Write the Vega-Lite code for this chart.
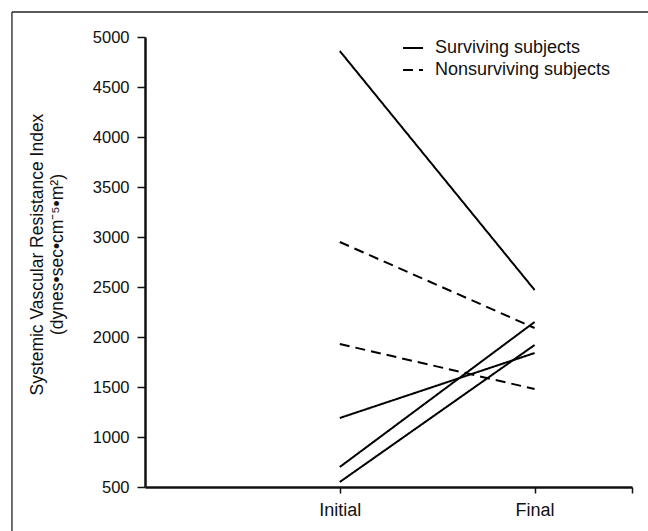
{
  "$schema": "https://vega.github.io/schema/vega-lite/v6.json",
  "width": 487,
  "height": 450,
  "autosize": {"type": "none"},
  "padding": {"left": 145, "top": 37, "right": 16, "bottom": 44},
  "background": "white",
  "config": {
    "view": {"stroke": null},
    "font": "Liberation Sans",
    "axis": {"labelFont": "Liberation Sans", "titleFont": "Liberation Sans", "labelColor": "#111", "titleColor": "#111", "domainColor": "#111", "tickColor": "#111", "grid": false}
  },
  "datasets": {
    "svri": [
      {"subject": "S1", "group": "Surviving subjects", "time": 1, "svri": 4860},
      {"subject": "S1", "group": "Surviving subjects", "time": 2, "svri": 2470},
      {"subject": "S2", "group": "Surviving subjects", "time": 1, "svri": 1190},
      {"subject": "S2", "group": "Surviving subjects", "time": 2, "svri": 1840},
      {"subject": "S3", "group": "Surviving subjects", "time": 1, "svri": 700},
      {"subject": "S3", "group": "Surviving subjects", "time": 2, "svri": 2150},
      {"subject": "S4", "group": "Surviving subjects", "time": 1, "svri": 550},
      {"subject": "S4", "group": "Surviving subjects", "time": 2, "svri": 1920},
      {"subject": "N1", "group": "Nonsurviving subjects", "time": 1, "svri": 2950},
      {"subject": "N1", "group": "Nonsurviving subjects", "time": 2, "svri": 2090},
      {"subject": "N2", "group": "Nonsurviving subjects", "time": 1, "svri": 1930},
      {"subject": "N2", "group": "Nonsurviving subjects", "time": 2, "svri": 1480}
    ]
  },
  "layer": [
    {
      "data": {"values": [{"side": "left"}]},
      "mark": {"type": "rule", "color": "#222", "strokeWidth": 1.3, "clip": false},
      "encoding": {
        "x": {"datum": -0.683, "type": "quantitative", "scale": {"domain": [0, 2.5], "nice": false, "zero": false}},
        "y": {"datum": -100, "type": "quantitative"},
        "y2": {"datum": 5250}
      }
    },
    {
      "data": {"values": [{"side": "top"}]},
      "mark": {"type": "rule", "color": "#222", "strokeWidth": 1.3, "clip": false},
      "encoding": {
        "y": {"datum": 5250, "type": "quantitative"},
        "x": {"datum": -0.683, "type": "quantitative"},
        "x2": {"datum": 2.7}
      }
    },
    {
      "data": {"name": "svri"},
      "mark": {"type": "line", "color": "black", "strokeWidth": 2},
      "encoding": {
        "x": {
          "field": "time",
          "type": "quantitative",
          "scale": {"domain": [0, 2.5], "nice": false, "zero": false},
          "axis": {
            "title": null,
            "values": [1, 2, 2.5],
            "labelExpr": "datum.value == 1 ? 'Initial' : (datum.value == 2 ? 'Final' : '')",
            "labelFontSize": 18,
            "labelPadding": 8,
            "tickSize": 6,
            "tickWidth": 1.5,
            "domainWidth": 2.5
          }
        },
        "y": {
          "field": "svri",
          "type": "quantitative",
          "scale": {"domain": [500, 5000], "nice": false, "zero": false},
          "axis": {
            "title": ["Systemic Vascular Resistance Index", "(dynes•sec•cm⁻⁵•m²)"],
            "values": [500, 1000, 1500, 2000, 2500, 3000, 3500, 4000, 4500, 5000],
            "format": "d",
            "labelFontSize": 16.5,
            "labelPadding": 8,
            "tickSize": 8,
            "tickWidth": 1.5,
            "domainWidth": 2.5,
            "titleFontSize": 17.5,
            "titleFontWeight": "normal",
            "titleAngle": -90,
            "titleAlign": "center",
            "titleBaseline": "middle",
            "titleLineHeight": 20,
            "titleX": -108,
            "titleY": 217
          }
        },
        "detail": {"field": "subject"},
        "strokeDash": {
          "field": "group",
          "type": "nominal",
          "scale": {"domain": ["Surviving subjects", "Nonsurviving subjects"], "range": [[1, 0], [10, 6]]},
          "legend": {
            "title": null,
            "orient": "none",
            "legendX": 257,
            "legendY": 0,
            "padding": 0,
            "symbolType": "stroke",
            "symbolSize": 400,
            "symbolStrokeWidth": 2,
            "symbolStrokeColor": "black",
            "labelFontSize": 18,
            "labelFont": "Liberation Sans",
            "labelColor": "#111",
            "labelOffset": 11,
            "labelLimit": 400,
            "rowPadding": 2
          }
        }
      }
    }
  ]
}
